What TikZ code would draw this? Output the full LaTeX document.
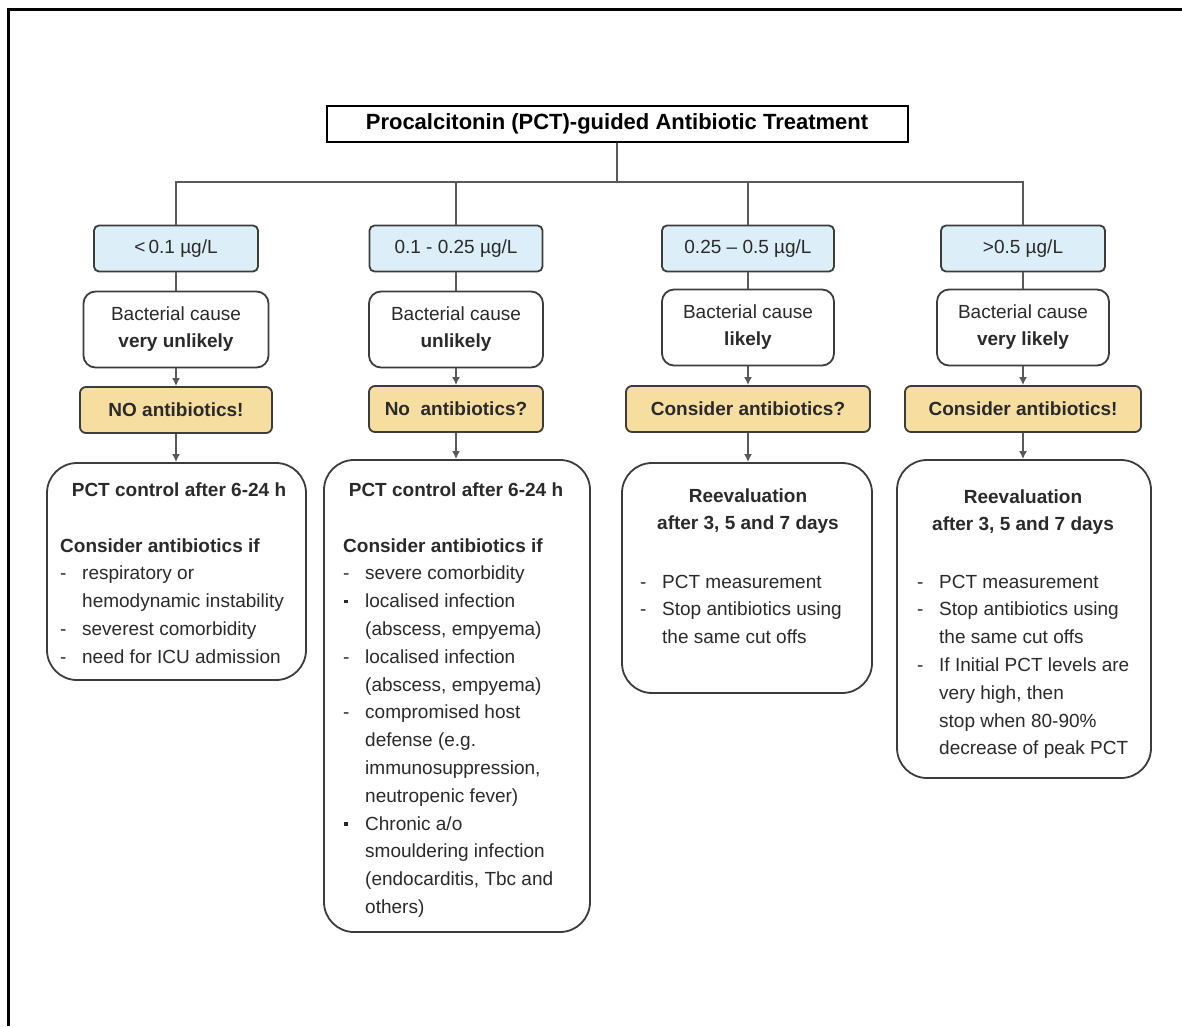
\documentclass[tikz,border=0pt]{standalone}
\usepackage{fontspec}
\setmainfont{Liberation Sans}
\usetikzlibrary{arrows.meta}
\definecolor{lblue}{HTML}{DCEEF8}
\definecolor{lyellow}{HTML}{F6DDA0}
\definecolor{edge}{HTML}{3C3C3C}
\definecolor{txt}{HTML}{2A2A2A}
\newcommand{\itm}[1]{\makebox[22pt][l]{-}#1}
\newcommand{\itb}[1]{\makebox[22pt][l]{\hspace*{1pt}\raisebox{4.5pt}{\rule{3.5pt}{3.5pt}}}#1}
\newcommand{\cnt}[1]{\hspace*{22pt}#1}
\newcommand{\bodyfont}{\fontsize{19}{27.8}\selectfont}
\begin{document}
\begin{tikzpicture}[x=1pt,y=-1pt,
  every node/.style={text=txt},
  boxbase/.style={draw=edge,line width=1.8pt,inner sep=0pt,align=center,font=\bodyfont},
  rangebox/.style={boxbase,fill=lblue,rounded corners=5pt,minimum height=46pt},
  causebox/.style={boxbase,fill=white,rounded corners=12pt,minimum height=76pt,font=\fontsize{19}{27}\selectfont},
  actbox/.style={boxbase,fill=lyellow,rounded corners=6pt,minimum height=46pt,font=\fontsize{19}{24}\selectfont\bfseries},
  bigbox/.style={draw=edge,line width=1.8pt,rounded corners=30pt,fill=white},
  blocktext/.style={anchor=north west,inner sep=0pt,align=left,font=\bodyfont},
  conn/.style={draw=edge!85,line width=1.8pt},
  arr/.style={conn,-{Latex[length=8pt,width=8pt]}}
]
\useasboundingbox (0,0) rectangle (1182,1026);
% outer frame
\draw[line width=3pt,black] (8,1026) -- (8,9.5) -- (1182,9.5);

% title
\node[draw=black,line width=2pt,minimum width=581pt,minimum height=36pt,inner sep=0pt,
  font=\fontsize{22}{26}\selectfont\bfseries,text=black] (title) at (617,124) {Procalcitonin (PCT)-guided Antibiotic Treatment};
\coordinate (bus) at (617,182);

% range boxes
\node[rangebox,minimum width=164pt] (r1) at (176,248.5) {<\,0.1 µg/L};
\node[rangebox,minimum width=173pt] (r2) at (456,248.5) {0.1 - 0.25 µg/L};
\node[rangebox,minimum width=172pt] (r3) at (748,248.5) {0.25 – 0.5 µg/L};
\node[rangebox,minimum width=164pt] (r4) at (1023,248.5) {>0.5 µg/L};

% cause boxes
\node[causebox,minimum width=185pt] (c1) at (176,329.5) {Bacterial cause\\\textbf{very unlikely}};
\node[causebox,minimum width=174pt] (c2) at (456,329.5) {Bacterial cause\\\textbf{unlikely}};
\node[causebox,minimum width=172pt] (c3) at (748,327.5) {Bacterial cause\\\textbf{likely}};
\node[causebox,minimum width=172pt] (c4) at (1023,327.5) {Bacterial cause\\\textbf{very likely}};

% action boxes
\node[actbox,minimum width=192pt] (a1) at (176,410) {NO antibiotics!};
\node[actbox,minimum width=174pt] (a2) at (456,409) {No\ \ antibiotics?};
\node[actbox,minimum width=244pt] (a3) at (748,409) {Consider antibiotics?};
\node[actbox,minimum width=236pt] (a4) at (1023,409) {Consider antibiotics!};

% big boxes
\node[bigbox,minimum width=259pt,minimum height=217pt] (p1) at (176.5,571.5) {};
\node[bigbox,minimum width=266pt,minimum height=472pt] (p2) at (457,696) {};
\node[bigbox,minimum width=250pt,minimum height=230pt] (p3) at (747,578) {};
\node[bigbox,minimum width=254pt,minimum height=318pt] (p4) at (1024,619) {};

% connectors
\draw[conn] (title.south) -- (bus);
\draw[conn] (r1.north) -- (r1.north |- bus) -- (r4.north |- bus) -- (r4.north);
\draw[conn] (r2.north) -- (r2.north |- bus);
\draw[conn] (r3.north) -- (r3.north |- bus);
\foreach \i in {1,2,3,4}{
  \draw[conn] (r\i.south) -- (c\i.north);
  \draw[arr] (c\i.south) -- (a\i.north);
  \draw[arr] (a\i.south) -- (a\i.south |- p\i.north);
}

% box 1 text
\node[font=\fontsize{19}{24}\selectfont\bfseries] (h1) at (179,490) {PCT control after 6-24 h};
\node[blocktext] (t1) at (60,532.5) {\strut\textbf{Consider antibiotics if}\\
\itm{respiratory or}\\
\cnt{hemodynamic instability}\\
\itm{severest comorbidity}\\
\itm{need for ICU admission}};

% box 2 text
\node[font=\fontsize{19}{24}\selectfont\bfseries] (h2) at (456,490) {PCT control after 6-24 h};
\node[blocktext] (t2) at (343,532.5) {\strut\textbf{Consider antibiotics if}\\
\itm{severe comorbidity}\\
\itb{localised infection}\\
\cnt{(abscess, empyema)}\\
\itm{localised infection}\\
\cnt{(abscess, empyema)}\\
\itm{compromised host}\\
\cnt{defense (e.g.}\\
\cnt{immunosuppression,}\\
\cnt{neutropenic fever)}\\
\itb{Chronic a/o}\\
\cnt{smouldering infection}\\
\cnt{(endocarditis, Tbc and}\\
\cnt{others)}};

% box 3 text
\node[font=\fontsize{19}{27}\selectfont\bfseries,align=center] (h3) at (748,511.5) {Reevaluation\\after 3, 5 and 7 days};
\node[blocktext] (t3) at (640,568.5) {\strut\itm{PCT measurement}\\
\itm{Stop antibiotics using}\\
\cnt{the same cut offs}};

% box 4 text
\node[font=\fontsize{19}{27}\selectfont\bfseries,align=center] (h4) at (1023,512.5) {Reevaluation\\after 3, 5 and 7 days};
\node[blocktext] (t4) at (917,568.5) {\strut\itm{PCT measurement}\\
\itm{Stop antibiotics using}\\
\cnt{the same cut offs}\\
\itm{If Initial PCT levels are}\\
\cnt{very high, then}\\
\cnt{stop when 80-90\%}\\
\cnt{decrease of peak PCT}};
\end{tikzpicture}
\end{document}
